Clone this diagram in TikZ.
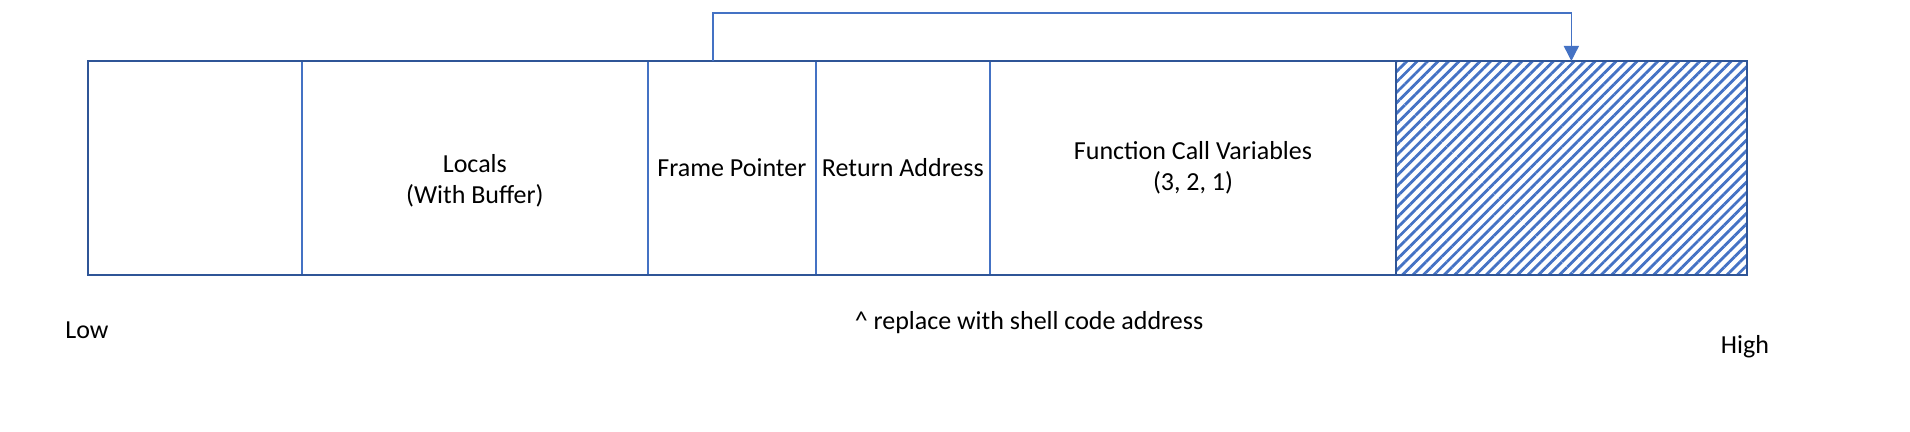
\documentclass[tikz,border=0pt]{standalone}
\usepackage{fontspec}
\setmainfont{Carlito}
\usetikzlibrary{patterns.meta,calc,arrows.meta}
\definecolor{darkblue}{RGB}{47,85,151}
\definecolor{midblue}{RGB}{68,114,196}
\tikzset{
  cell/.style={draw=midblue, line width=0.8pt, minimum height=107pt, inner sep=0pt, outer sep=0pt},
  hatchcell/.style={cell, draw=darkblue, pattern={Lines[angle=45,distance=3.7pt,line width=1.4pt]}, pattern color=midblue},
  outerbox/.style={draw=darkblue, line width=1pt},
  lbl/.style={font=\fontsize{13}{15.5}\selectfont, align=center, text=black, inner sep=0pt},
  conn/.style={draw=midblue, line width=0.7pt, -{Triangle[width=7.5pt,length=7.5pt]}}
}
\begin{document}
\begin{tikzpicture}[x=0.5pt,y=-0.5pt]
\useasboundingbox (0,0) rectangle (1910,432);
\node[cell, minimum width=106.85pt] (c1) at (194.85,168) {};
\node[cell, minimum width=173.15pt] (c2) at (474.85,168) {};
\node[cell, minimum width=83.85pt] (c3) at (731.85,168) {};
\node[cell, minimum width=87.15pt] (c4) at (902.85,168) {};
\node[cell, minimum width=203pt] (c5) at (1193,168) {};
\node[hatchcell, minimum width=175.35pt] (c6) at (1571.35,168) {};
\draw[outerbox] (c1.north west) rectangle (c6.south east);
\node[lbl] (t2) at (474.85,181) {Locals\\(With Buffer)};
\node[lbl] (t3) at (c3.center) {Frame Pointer};
\node[lbl] (t4) at (c4.center) {Return Address};
\node[lbl] (t5) at (1193,167.5) {Function Call Variables\\(3, 2, 1)};
\node[lbl] (low) at (87,330) {Low};
\node[lbl] (high) at (1745,347) {High};
\node[lbl] (note) at (1029,323) {\^{} replace with shell code address};
\draw[conn] ($(c3.north west)+(65,0)$) -- ++(0,-48) -| (c6.north);
\end{tikzpicture}
\end{document}
